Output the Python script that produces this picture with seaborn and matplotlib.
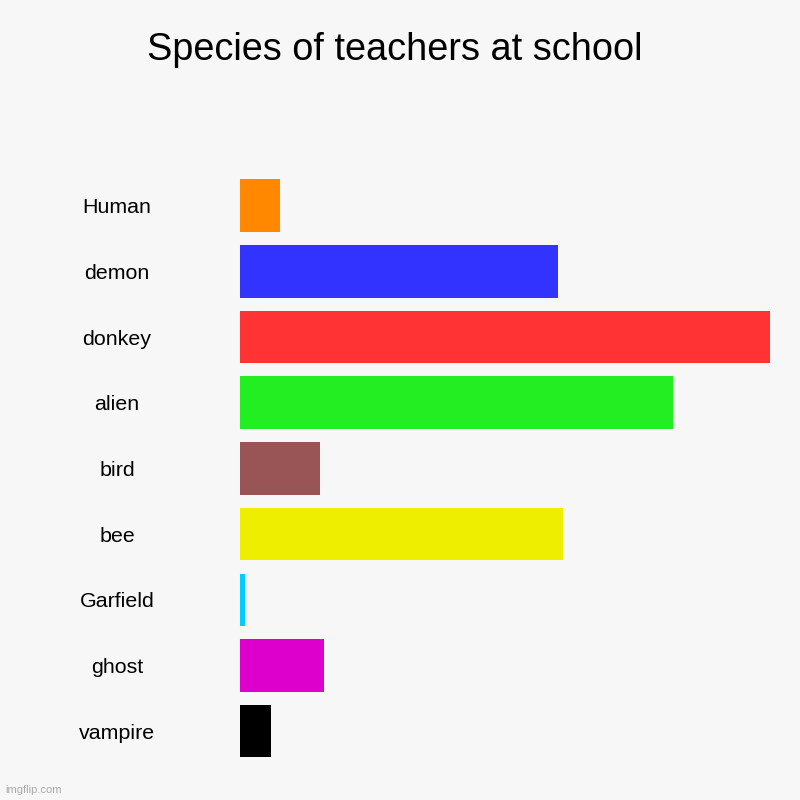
import pandas as pd
import matplotlib.pyplot as plt
import seaborn as sns

species = ['Human', 'demon', 'donkey', 'alien', 'bird', 'bee', 'Garfield', 'ghost', 'vampire']
counts = [7.5, 60, 100, 81.7, 15, 61, 0.9, 15.8, 5.8]
colors = ['#ff8800', '#3333ff', '#ff3333', '#22ee22', '#995555', '#eeee00', '#00ccff', '#dd00cc', '#000000']

df = pd.DataFrame({'species': species, 'count': counts})

sns.set_style('white')
plt.rcParams['font.family'] = ['Liberation Sans', 'DejaVu Sans']

fig = plt.figure(figsize=(8, 8), dpi=100, facecolor='#f7f7f7')
ax = fig.add_axes([0.3, 0.045, 0.6625, 0.739])
ax.set_facecolor('#f7f7f7')

sns.barplot(data=df, x='count', y='species', hue='species', palette=colors,
            legend=False, width=0.8, ax=ax, saturation=1, linewidth=0)

ax.set_xlim(0, max(counts))
ax.set_xlabel('')
ax.set_ylabel('')
ax.set_xticks([])
for s in ax.spines.values():
    s.set_visible(False)
ax.tick_params(axis='y', length=0, pad=88.6, labelsize=15.4, labelcolor='black')
for lbl in ax.get_yticklabels():
    lbl.set_horizontalalignment('center')

fig.text(0.494, 0.937, 'Species of teachers at school', ha='center', va='center',
         fontsize=27.3, color='black')
fig.text(0.006, 0.012, 'imgflip.com', ha='left', va='center', fontsize=8, color='#aaaaaa')

fig.savefig('out.png', dpi=100, facecolor=fig.get_facecolor())
